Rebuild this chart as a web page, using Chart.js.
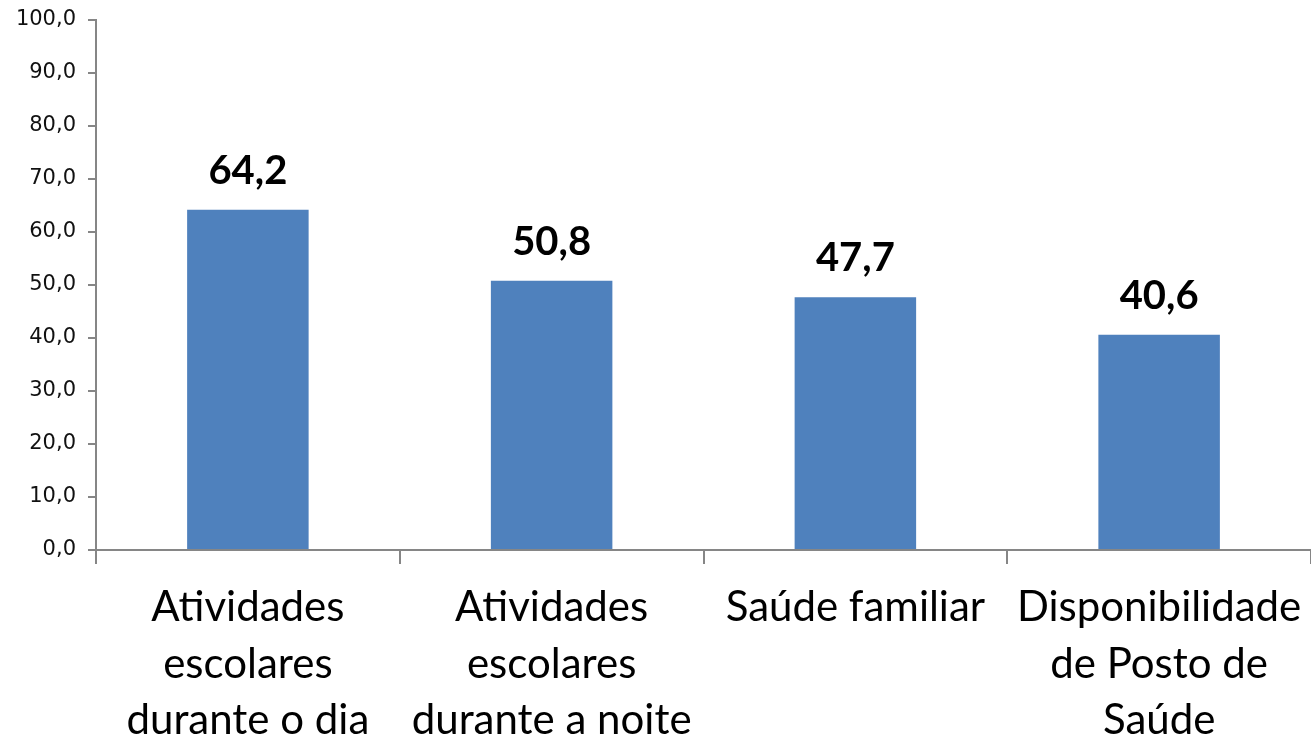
<!DOCTYPE html>
<html>
<head>
<meta charset="utf-8">
<script src="https://cdn.jsdelivr.net/npm/chart.js@4/dist/chart.umd.min.js"></script>
<style>
  html, body { margin: 0; padding: 0; background: #fff; }
  #wrap { width: 1311px; height: 737px; position: relative; }
</style>
</head>
<body>
<div id="wrap"><canvas id="myChart"></canvas></div>
<script>
// ========================================
// Dados do gráfico
// ========================================
const categories = [
  ['Atividades', 'escolares', 'durante o dia'],
  ['Atividades', 'escolares', 'durante a noite'],
  ['Saúde familiar'],
  ['Disponibilidade', 'de Posto de', 'Saúde']
];
const values = [64.2, 50.8, 47.7, 40.6];
const yMin = 0;
const yMax = 100;
const yStep = 10;

const fmt = v => v.toFixed(1).replace('.', ',');

// Rótulos de valor acima das barras
const valueLabels = {
  id: 'valueLabels',
  afterDatasetsDraw(chart) {
    const ctx = chart.ctx;
    const meta = chart.getDatasetMeta(0);
    ctx.save();
    ctx.font = 'bold 40px Lato';
    ctx.fillStyle = '#000';
    ctx.textAlign = 'center';
    ctx.textBaseline = 'bottom';
    meta.data.forEach((bar, i) => {
      ctx.fillText(fmt(values[i]), bar.x, bar.y - 19);
    });
    ctx.restore();
  }
};

const ctx = document.getElementById('myChart');
new Chart(ctx, {
  type: 'bar',
  data: {
    labels: categories,
    datasets: [{
      data: values,
      backgroundColor: '#4f81bd',
      borderWidth: 0,
      barPercentage: 0.4,
      categoryPercentage: 1
    }]
  },
  options: {
    responsive: true,
    maintainAspectRatio: false,
    animation: false,
    layout: { padding: { top: 20, right: 0, left: 0, bottom: 0 } },
    plugins: {
      legend: { display: false },
      tooltip: { enabled: false }
    },
    scales: {
      x: {
        offset: true,
        grid: {
          offset: true,
          drawOnChartArea: false,
          drawTicks: true,
          tickLength: 14,
          color: '#868686',
          lineWidth: 2
        },
        border: { color: '#868686', width: 2 },
        ticks: {
          color: '#000',
          font: { family: 'Lato', size: 42, lineHeight: 1.35 },
          padding: 15,
          maxRotation: 0,
          autoSkip: false
        },
        afterFit(scale) {
          scale.height = 187;
          scale.paddingLeft = 0;
          scale.paddingRight = 0;
        }
      },
      y: {
        min: yMin,
        max: yMax,
        grid: {
          drawOnChartArea: false,
          tickLength: 8,
          color: '#868686',
          lineWidth: 2
        },
        border: { color: '#868686', width: 2 },
        ticks: {
          stepSize: yStep,
          color: '#111',
          font: { family: 'DejaVu Sans', size: 21 },
          padding: 12,
          callback: v => fmt(v)
        },
        afterFit(scale) {
          scale.width = 96;
          scale.paddingTop = 0;
          scale.paddingBottom = 0;
        }
      }
    }
  },
  plugins: [valueLabels]
});
</script>
</body>
</html>
